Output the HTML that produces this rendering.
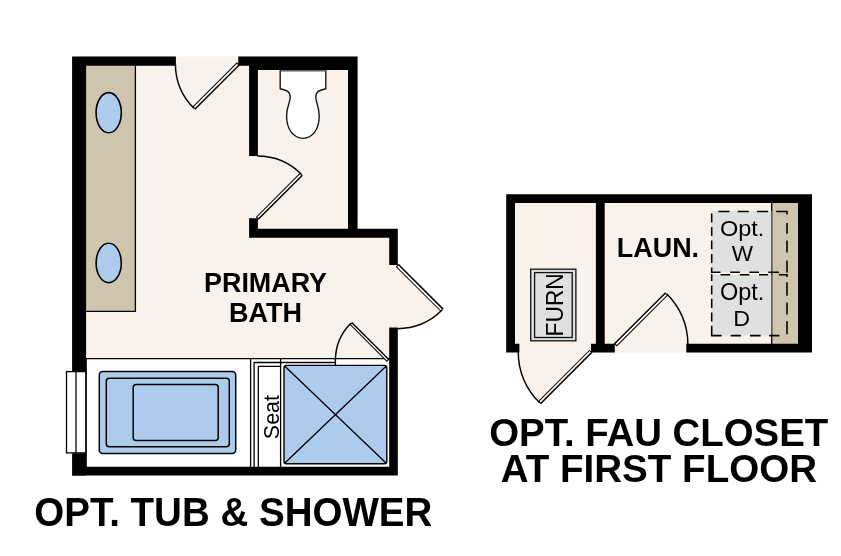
<!DOCTYPE html>
<html><head><meta charset="utf-8"><title>Floor plan options</title>
<style>html,body{margin:0;padding:0;background:#fff}svg{display:block;will-change:transform}text{font-family:"Liberation Sans",Arial,sans-serif;fill:#000}</style></head><body>
<svg width="841" height="556" viewBox="0 0 841 556">
<rect width="841" height="556" fill="#fff"/>
<g id="bath">
<path d="M80,56.5 H352 V233 H398 V358.5 H80 Z" fill="#f8f2ea"/>
<path d="M397.20,265.20 L397.20,328.70 A63.5,63.5 0 0 0 442.10,310.10 Z" fill="#f8f2ea"/>
<rect x="86" y="358.5" width="304" height="109" fill="#fff"/>
<rect x="86" y="65" width="49.5" height="246.3" fill="#cfc4ae"/>
<path d="M135.4,65 V311.3 H86" fill="none" stroke="#000" stroke-width="1.3"/>
<ellipse cx="108.7" cy="112.7" rx="12.6" ry="20.1" fill="#adcced" stroke="#000" stroke-width="1.6"/>
<ellipse cx="108.7" cy="263" rx="12.6" ry="19.7" fill="#adcced" stroke="#000" stroke-width="1.6"/>
<path d="M72.1,56.4 H86.1 V371.25 H72.1 Z M72.1,453.25 H86.1 V475.7 H72.1 Z M72.1,56.4 H175.9 V65.8 H72.1 Z M238.2,56.4 H249.5 V65.8 H238.2 Z M249.1,56.4 H357.6 V70.1 H249.1 Z M249.1,56.4 H257.9 V156 H249.1 Z M249.1,218.3 H257.9 V237.8 H249.1 Z M249.1,228.7 H397.8 V237.8 H249.1 Z M348,56.4 H357.6 V237.8 H348 Z M389.2,228.7 H397.8 V265 H389.2 Z M389.2,327.6 H397.8 V475.4 H389.2 Z M72.1,466.7 H397.8 V475.4 H72.1 Z" fill="#000"/>
<line x1="86" y1="358.7" x2="390" y2="358.7" stroke="#000" stroke-width="1.3"/>
<rect x="66.5" y="371.6" width="19.3" height="81.3" fill="#fff" stroke="#000" stroke-width="1.3"/>
<line x1="76" y1="371.6" x2="76" y2="453" stroke="#000" stroke-width="1.3"/>
<line x1="86.3" y1="358" x2="86.3" y2="467" stroke="#000" stroke-width="1"/>
<rect x="99.3" y="371.5" width="136.4" height="82" rx="3.5" fill="#adcced" stroke="#000" stroke-width="1.5"/>
<rect x="106.3" y="378.3" width="123" height="68.4" rx="3" fill="none" stroke="#000" stroke-width="1.5"/>
<rect x="133.2" y="384.6" width="85" height="55.8" rx="3" fill="none" stroke="#000" stroke-width="1.5"/>
<line x1="250.6" y1="358.5" x2="250.6" y2="467" stroke="#000" stroke-width="1.3"/>
<path d="M254.1,467 V362.5 H335.5" fill="none" stroke="#000" stroke-width="1.3"/>
<path d="M258.3,467 V366.4 H280.6" fill="none" stroke="#000" stroke-width="1.3"/>
<line x1="280.6" y1="358.5" x2="280.6" y2="467" stroke="#000" stroke-width="1.3"/>
<rect x="284" y="365.4" width="102.8" height="98.4" rx="2.5" fill="#adcced" stroke="#000" stroke-width="1.4"/>
<path d="M284.6,366 L386.3,463.2 M386.3,366 L284.6,463.2" stroke="#000" stroke-width="1.3" fill="none"/>
<text transform="translate(279.27,439.17) rotate(-90) scale(2.1496,2.2676)" font-size="10">Seat</text>
<path d="M175.40,63.80 A63,63 0 0 0 193.85,108.35" fill="none" stroke="#000" stroke-width="1.45"/>
<line x1="238.40" y1="63.80" x2="193.85" y2="108.35" stroke="#000" stroke-width="4.3"/>
<line x1="237.52" y1="64.33" x2="194.38" y2="107.46" stroke="#fff" stroke-width="1.7999999999999998"/>
<path d="M257.30,156.00 A62.4,62.4 0 0 1 301.42,174.28" fill="none" stroke="#000" stroke-width="1.45"/>
<line x1="257.30" y1="218.40" x2="301.42" y2="174.28" stroke="#000" stroke-width="4.1"/>
<line x1="257.83" y1="217.52" x2="300.54" y2="174.81" stroke="#fff" stroke-width="1.6"/>
<path d="M397.20,328.70 A63.5,63.5 0 0 0 442.10,310.10" fill="none" stroke="#000" stroke-width="1.45"/>
<line x1="397.20" y1="265.20" x2="442.10" y2="310.10" stroke="#000" stroke-width="4.3"/>
<line x1="397.73" y1="266.08" x2="441.22" y2="309.57" stroke="#fff" stroke-width="1.7999999999999998"/>
<path d="M335.40,360.60 A52.8,52.8 0 0 1 350.86,323.26" fill="none" stroke="#000" stroke-width="1.45"/>
<line x1="388.20" y1="360.60" x2="350.86" y2="323.26" stroke="#000" stroke-width="3.8"/>
<line x1="387.32" y1="360.07" x2="351.40" y2="324.15" stroke="#fff" stroke-width="1.2999999999999998"/>
<line x1="335.4" y1="360" x2="335.4" y2="365.4" stroke="#000" stroke-width="1.3"/>
<path d="M280.2,70.5 H325.8 V88.75 C320,90 315.8,91 315.8,97 C315.8,103 319.2,106 319.2,116 C319.2,130 312,138.3 303,138.3 C294,138.3 286.6,130 286.6,116 C286.6,106 290.2,103 290.2,97 C290.2,91 286,90 280.2,88.75 Z" fill="#fff" stroke="#111" stroke-width="1.35"/>
<line x1="280.2" y1="70.6" x2="325.8" y2="70.6" stroke="#666" stroke-width="1.2"/>
<text transform="translate(204.05,291.60) scale(2.6882,2.8052)" font-size="10" font-weight="bold">PRIMARY</text>
<text transform="translate(229.04,321.90) scale(2.7004,2.7762)" font-size="10" font-weight="bold">BATH</text>
<text transform="translate(34.26,525.50) scale(3.8530,3.9971)" font-size="10" font-weight="bold">OPT. TUB &amp; SHOWER</text>
</g>
<g id="fau">
<path d="M510,198 H805 V352.4 H510 Z" fill="#f8f2ea"/>
<path d="M591.00,351.20 L518.20,351.20 A72.8,72.8 0 0 0 539.52,402.68 Z" fill="#f8f2ea"/>
<rect x="771.8" y="203" width="26.4" height="141" fill="#cfc4ae"/>
<line x1="771.7" y1="203" x2="771.7" y2="344" stroke="#000" stroke-width="1.3"/>
<path d="M506.2,194.25 H515 V352.4 H506.2 Z M506.2,343.7 H519.4 V352.4 H506.2 Z M506.2,194.25 H812 V203 H506.2 Z M595.9,194.25 H604.7 V352.4 H595.9 Z M591,343.7 H614.8 V352.4 H591 Z M798,194.25 H812 V352.4 H798 Z M686.3,343.7 H812 V352.4 H686.3 Z" fill="#000"/>
<rect x="530.7" y="269.2" width="45.2" height="71.6" fill="#dfe1e0" stroke="#111" stroke-width="1.3"/>
<rect x="534.6" y="272.6" width="37.6" height="64.9" fill="none" stroke="#111" stroke-width="1.3"/>
<text transform="translate(563.00,336.42) rotate(-90) scale(2.2753,2.3837)" font-size="10">FURN</text>
<rect x="711.6" y="211.3" width="59.8" height="61" fill="#dfe1e0"/>
<rect x="711.6" y="274.8" width="59.8" height="60.8" fill="#dfe1e0"/>
<path d="M718.4,211.4 H729.6 M737.7,211.4 H748.9 M756.9,211.4 H768.2 M776.2,211.4 H787.6 M711.1,272.3 H720.5 M730.2,272.3 H739.8 M749.4,272.3 H759 M768.2,272.3 H778.9 M720.5,274.8 H730.2 M739.8,274.8 H749.4 M759,274.8 H768.2 M778.9,274.8 H787.6 M711.1,335.6 H721.6 M730.7,335.6 H740.9 M750,335.6 H760.7 M769.2,335.6 H779.4 M711.7,213.5 V222.5 M711.7,227 V236 M711.7,240.4 V249.2 M711.7,254 V263 M711.7,267.4 V272.9 M711.7,274.2 V281 M711.7,285.4 V294.4 M711.7,298.8 V308 M711.7,312.4 V321.4 M711.7,325.8 V336.2 M787,210.8 V214.5 M787,222.9 V233.7 M787,240.4 V252.6 M787,260.6 V272.5 M787,274.2 V277 M787,282.2 V295.7 M787,302.4 V314.6 M787,321.3 V334.3" fill="none" stroke="#000" stroke-width="1.55"/>
<text transform="translate(720.04,235.97) scale(2.3476,2.2676)" font-size="10">Opt.</text>
<text transform="translate(731.69,261.40) scale(2.2567,2.2529)" font-size="10">W</text>
<text transform="translate(720.04,299.87) scale(2.3476,2.3099)" font-size="10">Opt.</text>
<text transform="translate(733.33,325.70) scale(2.3361,2.2529)" font-size="10">D</text>
<text transform="translate(616.85,256.90) scale(2.6918,2.8198)" font-size="10" font-weight="bold">LAUN.</text>
<path d="M518.20,351.20 A72.8,72.8 0 0 0 539.52,402.68" fill="none" stroke="#000" stroke-width="1.45"/>
<line x1="591.00" y1="351.20" x2="539.52" y2="402.68" stroke="#000" stroke-width="4.3"/>
<line x1="590.12" y1="351.73" x2="540.05" y2="401.79" stroke="#fff" stroke-width="1.7999999999999998"/>
<path d="M687.90,345.00 A72.6,72.6 0 0 0 666.64,293.66" fill="none" stroke="#000" stroke-width="1.45"/>
<line x1="615.30" y1="345.00" x2="666.64" y2="293.66" stroke="#000" stroke-width="4.3"/>
<line x1="616.18" y1="344.47" x2="666.11" y2="294.55" stroke="#fff" stroke-width="1.7999999999999998"/>
<text transform="translate(489.26,445.70) scale(3.8390,3.9390)" font-size="10" font-weight="bold">OPT. FAU CLOSET</text>
<text transform="translate(500.64,481.70) scale(3.8590,3.9390)" font-size="10" font-weight="bold">AT FIRST FLOOR</text>
</g>
</svg>
</body></html>
